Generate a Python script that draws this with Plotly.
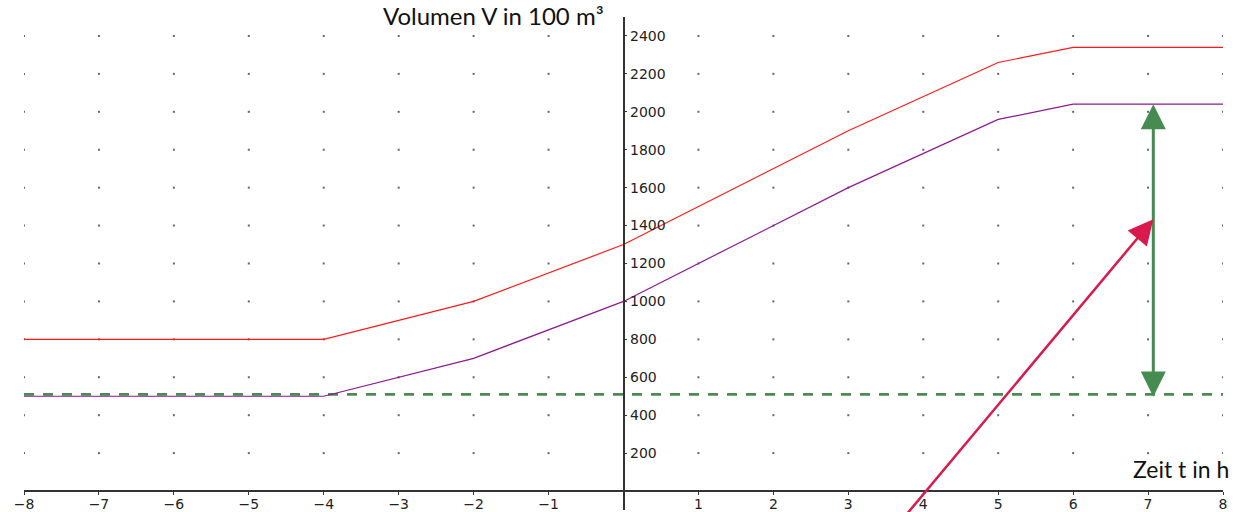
import numpy as np
import plotly.graph_objects as go

# Zeit t in h (Knickpunkte der Kurven)
t = [-8, -4, -2, 0, 3, 5, 6, 8]
# Volumen V in 100 m³
v_oben = [800, 800, 1000, 1300, 1900, 2260, 2340, 2340]
v_unten = [500, 500, 700, 1000, 1600, 1960, 2040, 2040]

# gestrichelte Grenzlinie
niveau = 510

# grüner Doppelpfeil
pfeil_t = 7.07
pfeil_oben = 2040
pfeil_unten = 490

# roter Pfeil (Spitze und Anfang)
rot_spitze_t, rot_spitze_v = 7.07, 1433
rot_start_t, rot_start_v = 3.72, -150

x_ticks = [-8, -7, -6, -5, -4, -3, -2, -1, 1, 2, 3, 4, 5, 6, 7, 8]
y_ticks = [200, 400, 600, 800, 1000, 1200, 1400, 1600, 1800, 2000, 2200, 2400]

x_range = [-8, 8]
y_range = [-100, 2500]

tick_font = dict(family="DejaVu Sans", size=14, color="#222222")
axis_col = "#333333"

fig = go.Figure()

# Punktraster
gx, gy = np.meshgrid(x_ticks, y_ticks)
fig.add_trace(go.Scatter(
    x=gx.ravel(), y=gy.ravel(), mode="markers",
    marker=dict(symbol="square", size=2, color="#666666", line=dict(width=0)),
    hoverinfo="skip", showlegend=False,
))

# gestrichelte Linie
fig.add_trace(go.Scatter(
    x=x_range, y=[niveau, niveau], mode="lines",
    line=dict(color="#4a8b55", width=2.6, dash="10px,9px"),
    showlegend=False,
))

# Kurven
fig.add_trace(go.Scatter(
    x=t, y=v_oben, mode="lines",
    line=dict(color="#ff1a1a", width=1.2),
    showlegend=False,
))
fig.add_trace(go.Scatter(
    x=t, y=v_unten, mode="lines",
    line=dict(color="#8a1a8e", width=1.2),
    showlegend=False,
))

# grüner Doppelpfeil
fig.add_annotation(
    x=pfeil_t, y=pfeil_oben, ax=pfeil_t, ay=pfeil_unten,
    xref="x", yref="y", axref="x", ayref="y",
    text="", showarrow=True,
    arrowhead=2, startarrowhead=2, arrowside="end+start",
    arrowwidth=3, arrowsize=1.67, startarrowsize=1.67,
    arrowcolor="#468c50",
)

# roter Pfeil
fig.add_annotation(
    x=rot_spitze_t, y=rot_spitze_v, ax=rot_start_t, ay=rot_start_v,
    xref="x", yref="y", axref="x", ayref="y",
    text="", showarrow=True,
    arrowhead=2, arrowwidth=2.5, arrowsize=2,
    arrowcolor="#d81b4c",
)

# Achsentitel
fig.add_annotation(
    text="Volumen V in 100 m³", xref="paper", yref="paper",
    x=(381 - 24) / 1199, y=(510 - 15) / 493, xanchor="left", yanchor="middle",
    showarrow=False, font=dict(family="Lato", size=24, color="#111111"),
)
fig.add_annotation(
    text="Zeit t in h", xref="paper", yref="paper",
    x=(1231 - 24) / 1199, y=(510 - 469) / 493, xanchor="right", yanchor="middle",
    showarrow=False, font=dict(family="Lato", size=23, color="#111111"),
)

y0_pos = (0 - y_range[0]) / (y_range[1] - y_range[0])

common_x = dict(range=x_range, tickvals=x_ticks, showgrid=False, zeroline=False,
                automargin=False, fixedrange=True)
common_y = dict(range=y_range, tickvals=y_ticks, showgrid=False, zeroline=False,
                automargin=False, fixedrange=True)

fig.update_layout(
    width=1237, height=512,
    margin=dict(l=24, r=14, t=17, b=2),
    paper_bgcolor="white", plot_bgcolor="white",
    showlegend=False,
    xaxis=dict(**common_x, anchor="free", position=y0_pos,
               showline=True, linecolor=axis_col, linewidth=1.5,
               ticks="outside", ticklen=3, tickwidth=1.2, tickcolor=axis_col,
               tickfont=tick_font, ticklabelstandoff=-3),
    xaxis2=dict(**common_x, overlaying="x", anchor="free", position=y0_pos,
                showline=False, ticks="inside", ticklen=3, tickwidth=1.2,
                tickcolor=axis_col, showticklabels=False),
    yaxis=dict(**common_y, anchor="free", position=0.5, side="right",
               showline=True, linecolor=axis_col, linewidth=1.5,
               ticks="outside", ticklen=3, tickwidth=1.2, tickcolor=axis_col,
               tickfont=tick_font),
    yaxis2=dict(**common_y, overlaying="y", anchor="free", position=0.5, side="right",
                showline=False, ticks="inside", ticklen=3, tickwidth=1.2,
                tickcolor=axis_col, showticklabels=False),
)

fig.write_html("out.html")
